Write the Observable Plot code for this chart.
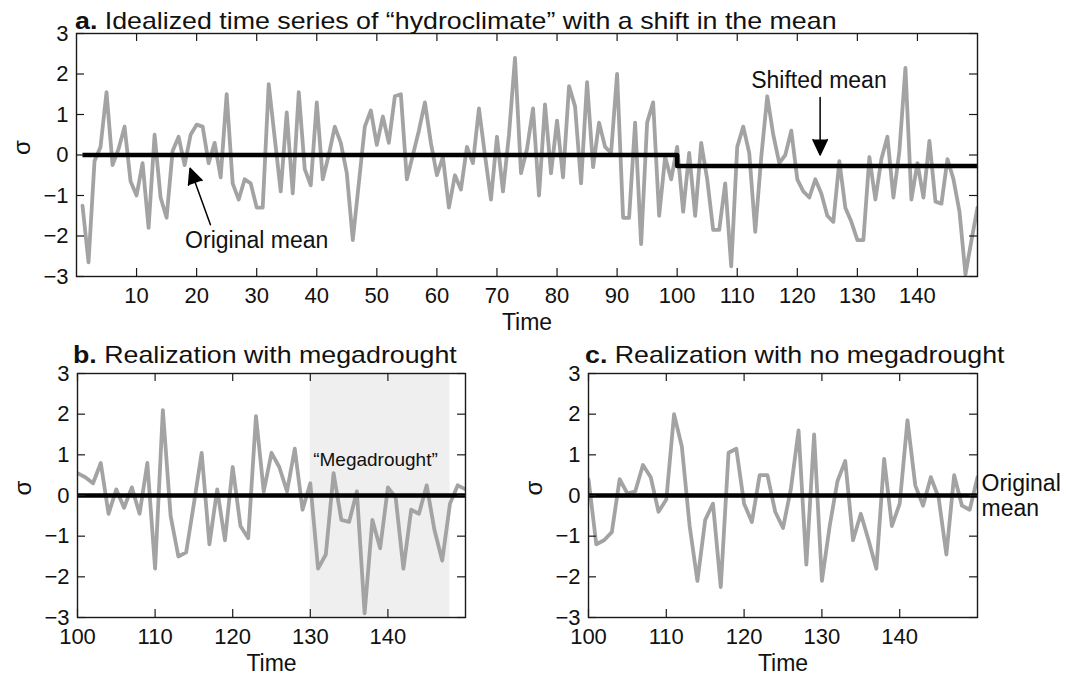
<!DOCTYPE html>
<html>
<head>
<meta charset="utf-8">
<script src="https://cdn.jsdelivr.net/npm/d3@7"></script>
<script src="https://cdn.jsdelivr.net/npm/@observablehq/plot@0.6"></script>
<style>
  body { margin: 0; background: #fff; }
  #root { position: relative; width: 1066px; height: 675px; overflow: hidden;
          font-family: "Liberation Sans", Arial, Helvetica, sans-serif; background: #fff; }
  .panel { position: absolute; }
  .title { position: absolute; font-size: 24px; line-height: 24px; white-space: nowrap;
           transform-origin: left center; transform: scaleX(1.115); color: #111; }
</style>
</head>
<body>
<div id="root"></div>
<script>
// ---------- data ----------
const timeA = d3.range(1, 151);
const valuesA = [
  -1.25, -2.65, -0.15, 0.2, 1.55, -0.25, 0.15, 0.7, -0.65, -1.0,
  -0.2, -1.8, 0.5, -1.05, -1.55, 0.1, 0.45, -0.25, 0.5, 0.75,
  0.7, -0.2, 0.3, -0.55, 1.5, -0.7, -1.1, -0.6, -0.7, -1.3,
  -1.3, 1.75, 0.42, -0.9, 1.05, -0.95, 1.55, -0.35, -0.75, 1.3,
  -0.6, 0.0, 0.7, 0.3, -0.45, -2.1, -0.7, 0.7, 1.1, 0.25,
  0.95, 0.3, 1.45, 1.5, -0.6, 0.0, 0.6, 1.3, 0.3, -0.5,
  -0.05, -1.3, -0.5, -0.85, 0.2, -0.2, 1.15, 0.0, -1.1, 0.45,
  -0.9, 0.5, 2.4, -0.45, 0.15, 1.15, -1.0, 1.25, -0.45, 0.85,
  -0.55, 1.7, 1.2, -0.7, 1.8, -0.3, 0.8, 0.2, 0.05, 2.0,
  -1.55, -1.55, 0.8, -2.2, 0.8, 1.3, -1.5, -0.05, -0.6, 0.2,
  -1.4, 0.05, -1.5, 0.3, -0.6, -1.85, -1.85, -0.7, -2.75, 0.2,
  0.7, 0.05, -1.9, -0.05, 1.45, 0.5, -0.2, 0.0, 0.6, -0.6,
  -0.9, -1.05, -0.6, -0.95, -1.5, -1.65, -0.15, -1.3, -1.65, -2.1,
  -2.1, -0.05, -1.1, -0.1, 0.45, -1.05, 0.1, 2.15, -1.1, -0.2,
  -1.05, 0.35, -1.15, -1.2, -0.1, -0.6, -1.4, -2.95, -2.1, -1.3
];
const meanTimeA = [1, 100, 150];
const meanValueA = [0, -0.27, -0.27];

const timeBC = d3.range(100, 151);
const valuesB = [
  0.55, 0.45, 0.3, 0.8, -0.45, 0.15, -0.3, 0.2, -0.45, 0.8,
  -1.8, 2.1, -0.5, -1.5, -1.4, -0.2, 1.05, -1.2, 0.15, -1.1,
  0.7, -0.75, -1.05, 1.95, 0.1, 1.05, 0.7, 0.1, 1.15, -0.35,
  0.3, -1.8, -1.45, 0.55, -0.6, -0.65, 0.1, -2.9, -0.6, -1.3,
  0.2, -0.05, -1.8, -0.35, -0.45, 0.25, -0.85, -1.6, -0.2, 0.25,
  0.15
];
const valuesC = [
  0.4, -1.2, -1.1, -0.9, 0.4, 0.05, 0.1, 0.75, 0.45, -0.4,
  -0.1, 2.0, 1.2, -0.75, -2.1, -0.6, -0.2, -2.25, 1.05, 1.15,
  -0.2, -0.65, 0.5, 0.5, -0.4, -0.8, 0.15, 1.6, -1.7, 1.5,
  -2.1, -0.75, 0.35, 0.85, -1.1, -0.45, -1.1, -1.8, 0.9, -0.75,
  -0.2, 1.85, 0.25, -0.25, 0.45, -0.05, -1.45, 0.5, -0.25, -0.35,
  0.45
];
const originalMean = 0;
const droughtSpan = [130, 148];

const xTicksA = [10, 20, 30, 40, 50, 60, 70, 80, 90, 100, 110, 120, 130, 140];
const xTicksBC = [100, 110, 120, 130, 140];
const yTicks = [-3, -2, -1, 0, 1, 2, 3];

const titles = [
  {bold: "a.", text: " Idealized time series of \u201chydroclimate\u201d with a shift in the mean"},
  {bold: "b.", text: " Realization with megadrought"},
  {bold: "c.", text: " Realization with no megadrought"}
];

const annotationsA = [
  {label: "Original mean", x: 30, y: -2.11, ax1: 22.3, ay1: -1.72, ax2: 18.9, ay2: -0.33},
  {label: "Shifted mean", x: 123.6, y: 1.84, ax1: 123.8, ay1: 1.42, ax2: 123.8, ay2: 0.0}
];
const annotationB = [{label: "\u201cMegadrought\u201d", x: 138.4, y: 0.87}];
const annotationC = [{label: "Original\nmean", x: 150, y: 0}];

// ---------- build ----------
const root = document.getElementById("root");
const FONT = "'Liberation Sans', Arial, Helvetica, sans-serif";
const GRAY = "#a3a3a3";
const TICK = 8;

function panel({left, top, width, height, margin, xDomain, xTicks, series, extra = [], before = []}) {
  const innerW = width - margin.left - margin.right;
  const innerH = height - margin.top - margin.bottom;
  const chart = Plot.plot({
    width, height,
    marginLeft: margin.left, marginRight: margin.right,
    marginTop: margin.top, marginBottom: margin.bottom,
    style: {fontFamily: FONT, fontSize: "22px", color: "#111", background: "transparent", overflow: "visible"},
    x: {domain: xDomain},
    y: {domain: [-3, 3]},
    marks: [
      ...before,
      Plot.line(series, {x: "t", y: "v", stroke: GRAY, strokeWidth: 3.8, clip: true}),
      ...extra,
      // inward ticks on all four sides
      Plot.ruleX(xTicks, {x: d => d, insetTop: innerH - TICK, stroke: "#1a1a1a", strokeWidth: 1.2}),
      Plot.ruleX(xTicks, {x: d => d, insetBottom: innerH - TICK, stroke: "#1a1a1a", strokeWidth: 1.2}),
      Plot.ruleY(yTicks, {y: d => d, insetRight: innerW - TICK, stroke: "#1a1a1a", strokeWidth: 1.2}),
      Plot.ruleY(yTicks, {y: d => d, insetLeft: innerW - TICK, stroke: "#1a1a1a", strokeWidth: 1.2}),
      Plot.frame({stroke: "#1a1a1a", strokeWidth: 1.4}),
      Plot.axisX(xTicks, {tickSize: 0, tickPadding: 11, fontSize: 22, label: null}),
      Plot.axisY(yTicks, {tickSize: 0, tickPadding: 8, fontSize: 22, label: null}),
      Plot.text(["\u03c3"], {frameAnchor: "left", dx: -54, rotate: -90, fontSize: 24}),
      Plot.text(["Time"], {frameAnchor: "bottom", dy: 53, fontSize: 23})
    ]
  });
  const div = document.createElement("div");
  div.className = "panel";
  div.style.left = left + "px";
  div.style.top = top + "px";
  div.appendChild(chart);
  root.appendChild(div);
}

function addTitle(t, left, top) {
  const d = document.createElement("div");
  d.className = "title";
  d.style.left = left + "px";
  d.style.top = top + "px";
  const b = document.createElement("b");
  b.textContent = t.bold;
  d.appendChild(b);
  d.appendChild(document.createTextNode(t.text));
  root.appendChild(d);
}

const dataA = timeA.map((t, i) => ({t, v: valuesA[i]}));
const meanA = meanTimeA.map((t, i) => ({t, v: meanValueA[i]}));
const dataB = timeBC.map((t, i) => ({t, v: valuesB[i]}));
const dataC = timeBC.map((t, i) => ({t, v: valuesC[i]}));

// Panel a
panel({
  left: 0, top: 0, width: 1066, height: 330,
  margin: {left: 76, right: 89, top: 33, bottom: 54},
  xDomain: [0, 150], xTicks: xTicksA, series: dataA,
  extra: [
    Plot.line(meanA, {x: "t", y: "v", curve: "step-after", stroke: "#000", strokeWidth: 4.6, strokeLinecap: "butt", clip: true}),
    Plot.arrow(annotationsA, {x1: "ax1", y1: "ay1", x2: "ax2", y2: "ay2", stroke: "#000", fill: "#000", strokeWidth: 1.5, headLength: 17, headAngle: 50}),
    Plot.text(annotationsA, {x: "x", y: "y", text: "label", fontSize: 23})
  ]
});

// Panel b
panel({
  left: 0, top: 340, width: 520, height: 335,
  margin: {left: 77, right: 55, top: 33, bottom: 58},
  xDomain: [100, 150], xTicks: xTicksBC, series: dataB,
  before: [Plot.rect([droughtSpan], {x1: d => d[0], x2: d => d[1], fill: "#efefef"})],
  extra: [
    Plot.ruleY([originalMean], {stroke: "#000", strokeWidth: 4.6}),
    Plot.text(annotationB, {x: "x", y: "y", text: "label", fontSize: 19})
  ]
});

// Panel c
panel({
  left: 520, top: 340, width: 546, height: 335,
  margin: {left: 68, right: 89, top: 33, bottom: 58},
  xDomain: [100, 150], xTicks: xTicksBC, series: dataC,
  extra: [
    Plot.ruleY([originalMean], {stroke: "#000", strokeWidth: 4.6}),
    Plot.text(annotationC, {x: "x", y: "y", text: "label", textAnchor: "start", dx: 4, lineHeight: 1.08, fontSize: 23})
  ]
});

addTitle(titles[0], 75, 9);
addTitle(titles[1], 73, 343);
addTitle(titles[2], 585, 343);
</script>
</body>
</html>
